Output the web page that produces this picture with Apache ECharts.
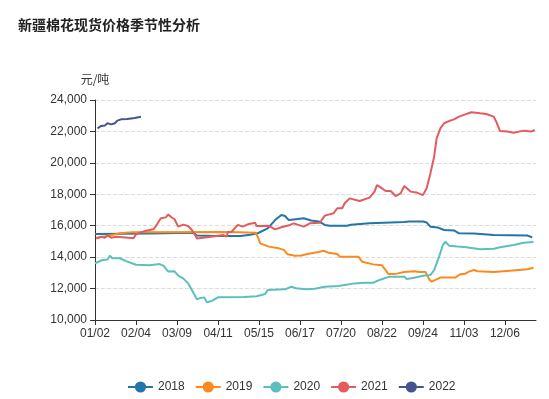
<!DOCTYPE html>
<html>
<head>
<meta charset="utf-8">
<title>新疆棉花现货价格季节性分析</title>
<script src="https://cdn.jsdelivr.net/npm/echarts@6/dist/echarts.min.js"></script>
<style>
  html, body { margin: 0; padding: 0; background: #fff; }
  #chart { width: 549px; height: 399px; }
</style>
</head>
<body>
<div id="chart"></div>
<script>
// calendar days of the season, without 05/01 and the October holiday
const monthDays = [31, 28, 31, 30, 31, 30, 31, 31, 30, 31, 30, 31];
const skipDays = ['01/01', '05/01', '10/01', '10/02', '10/03', '10/04', '10/05', '10/06', '10/07'];
const categories = [];
monthDays.forEach(function (n, m) {
    for (let d = 1; d <= n; d++) {
        const label = String(m + 1).padStart(2, '0') + '/' + String(d).padStart(2, '0');
        if (skipDays.indexOf(label) < 0) categories.push(label);
    }
});

const years = ['2018', '2019', '2020', '2021', '2022'];
const colors = ['#2275a8', '#fb8a1e', '#5cbfbf', '#e25b5d', '#45548f'];

const s2018 = [
    ['01/02', 15480], ['02/15', 15500], ['03/22', 15560], ['03/25', 15380], ['04/09', 15350],
    ['04/29', 15340], ['05/08', 15420], ['05/14', 15520], ['05/22', 15830], ['05/28', 16360],
    ['06/02', 16680], ['06/05', 16620], ['06/08', 16360], ['06/12', 16400], ['06/20', 16470],
    ['06/26', 16330], ['07/02', 16270], ['07/07', 16050], ['07/11', 16000], ['07/25', 16000],
    ['07/28', 16060], ['08/12', 16150], ['09/09', 16230], ['09/13', 16270], ['09/24', 16270],
    ['09/27', 16200], ['09/30', 15940], ['10/13', 15880], ['10/18', 15730], ['10/26', 15700],
    ['10/30', 15520], ['11/11', 15500], ['11/27', 15410], ['12/24', 15380], ['12/28', 15260]
];
const s2019 = [
    ['01/03', 15240], ['01/11', 15330], ['01/22', 15520], ['02/01', 15580], ['04/21', 15600],
    ['05/12', 15560], ['05/14', 15300], ['05/16', 14880], ['05/23', 14670], ['05/31', 14560],
    ['06/04', 14460], ['06/07', 14180], ['06/13', 14090], ['06/18', 14110], ['06/24', 14220],
    ['07/02', 14330], ['07/06', 14410], ['07/10', 14280], ['07/17', 14200], ['07/19', 14030],
    ['08/03', 14030], ['08/06', 13710], ['08/07', 13650], ['08/15', 13540], ['08/22', 13480],
    ['08/25', 13180], ['08/27', 12930], ['09/03', 12950], ['09/09', 13050], ['09/17', 13100],
    ['09/18', 13180], ['09/21', 13050], ['09/26', 13050], ['09/29', 12590], ['10/08', 12440],
    ['10/11', 12550], ['10/15', 12700], ['10/27', 12700], ['10/31', 12910], ['11/04', 12950],
    ['11/07', 13080], ['11/11', 13180], ['11/14', 13100], ['11/27', 13050], ['12/10', 13140],
    ['12/24', 13230], ['12/29', 13330]
];
const s2020 = [
    ['01/02', 13610], ['01/08', 13820], ['01/12', 13850], ['01/14', 14090], ['01/16', 13930],
    ['01/22', 13930], ['01/27', 13750], ['02/04', 13520], ['02/15', 13490], ['02/23', 13560],
    ['02/26', 13460], ['03/02', 13080], ['03/07', 13100], ['03/10', 12820], ['03/14', 12650],
    ['03/18', 12330], ['03/21', 11910], ['03/25', 11320], ['03/27', 11380], ['03/31', 11440],
    ['04/02', 11130], ['04/06', 11210], ['04/11', 11440], ['05/03', 11470], ['05/13', 11510],
    ['05/20', 11650], ['05/22', 11910], ['06/05', 11950], ['06/10', 12120], ['06/14', 12020],
    ['06/22', 11950], ['06/29', 11990], ['07/07', 12120], ['07/18', 12160], ['07/31', 12330],
    ['08/08', 12370], ['08/15', 12370], ['08/20', 12550], ['08/28', 12760], ['09/09', 12760],
    ['09/11', 12610], ['09/17', 12690], ['09/24', 12820], ['09/30', 12860], ['10/10', 13180],
    ['10/14', 14030], ['10/17', 14770], ['10/19', 14980], ['10/22', 14730], ['10/29', 14670],
    ['11/05', 14630], ['11/16', 14500], ['11/27', 14540], ['12/02', 14630], ['12/13', 14770],
    ['12/21', 14920], ['12/22', 14840], ['12/29', 14960]
];
const s2021 = [
    ['01/03', 15180], ['01/07', 15300], ['01/10', 15240], ['01/12', 15390], ['01/15', 15240],
    ['01/19', 15300], ['01/29', 15240], ['02/02', 15200], ['02/04', 15450], ['02/07', 15560],
    ['02/12', 15680], ['02/18', 15770], ['02/20', 15980], ['02/24', 16470], ['02/28', 16530],
    ['03/02', 16720], ['03/04', 16570], ['03/07', 16410], ['03/10', 15940], ['03/14', 16070],
    ['03/18', 15980], ['03/21', 15730], ['03/24', 15350], ['03/25', 15180], ['04/02', 15260],
    ['04/10', 15350], ['04/15', 15410], ['04/18', 15300], ['04/19', 15600], ['04/22', 15620],
    ['04/27', 16050], ['05/02', 15940], ['05/06', 16090], ['05/12', 16190], ['05/13', 15980],
    ['05/23', 15990], ['05/28', 15770], ['06/02', 15900], ['06/09', 16050], ['06/12', 16150],
    ['06/20', 15940], ['06/25', 16150], ['07/03', 16190], ['07/07', 16640], ['07/14', 16790],
    ['07/17', 17110], ['07/21', 17110], ['07/23', 17430], ['07/27', 17740], ['08/04', 17570],
    ['08/12', 17790], ['08/16', 18170], ['08/18', 18590], ['08/20', 18490], ['08/25', 18210],
    ['08/29', 18210], ['09/02', 17890], ['09/06', 18060], ['09/09', 18530], ['09/14', 18170],
    ['09/19', 18110], ['09/24', 17950], ['09/27', 18380], ['09/30', 19330], ['10/10', 20390],
    ['10/12', 21560], ['10/15', 22200], ['10/18', 22520], ['10/22', 22660], ['10/26', 22770],
    ['10/30', 22940], ['11/03', 23050], ['11/09', 23220], ['11/16', 23150], ['11/21', 23110],
    ['11/27', 22940], ['11/29', 22620], ['12/02', 22030], ['12/08', 21990], ['12/13', 21920],
    ['12/21', 22050], ['12/27', 21990], ['12/30', 22090]
];
const s2022 = [
    ['01/04', 22200], ['01/07', 22350], ['01/10', 22380], ['01/12', 22520], ['01/15', 22450],
    ['01/18', 22520], ['01/20', 22690], ['01/23', 22770], ['01/28', 22790], ['02/03', 22860],
    ['02/08', 22940]
];
const seriesData = [s2018, s2019, s2020, s2021, s2022];

const chart = echarts.init(document.getElementById('chart'));
const option = {
    animation: false,
    color: colors,
    title: {
        text: '新疆棉花现货价格季节性分析',
        left: 13,
        top: 13,
        textStyle: {
            fontSize: 14,
            fontWeight: 'bold',
            color: '#222',
            fontFamily: 'Noto Sans CJK SC'
        }
    },
    legend: {
        data: years,
        left: 122,
        top: 376,
        itemGap: 10,
        textStyle: { color: '#333', fontSize: 12 }
    },
    grid: {
        left: 95,
        right: 13,
        top: 100,
        bottom: 79,
        containLabel: false
    },
    xAxis: {
        type: 'category',
        data: categories,
        boundaryGap: false,
        axisLine: { lineStyle: { color: '#333' } },
        axisTick: { interval: 32, lineStyle: { color: '#333' } },
        axisLabel: { interval: 32, color: '#333', fontSize: 12 }
    },
    yAxis: {
        type: 'value',
        name: '元/吨',
        nameTextStyle: { color: '#333', fontSize: 12, fontFamily: 'Noto Sans CJK SC' },
        min: 10000,
        max: 24000,
        interval: 2000,
        axisLine: { show: true, lineStyle: { color: '#333' } },
        axisTick: { show: true, lineStyle: { color: '#333' } },
        axisLabel: { color: '#333', fontSize: 12 },
        splitLine: { lineStyle: { type: 'dashed', color: '#ddd' } }
    },
    series: years.map(function (y, i) {
        return {
            name: y,
            type: 'line',
            data: seriesData[i],
            symbol: 'circle',
            showSymbol: false,
            lineStyle: { width: 2 }
        };
    })
};
chart.setOption(option);
</script>
</body>
</html>
